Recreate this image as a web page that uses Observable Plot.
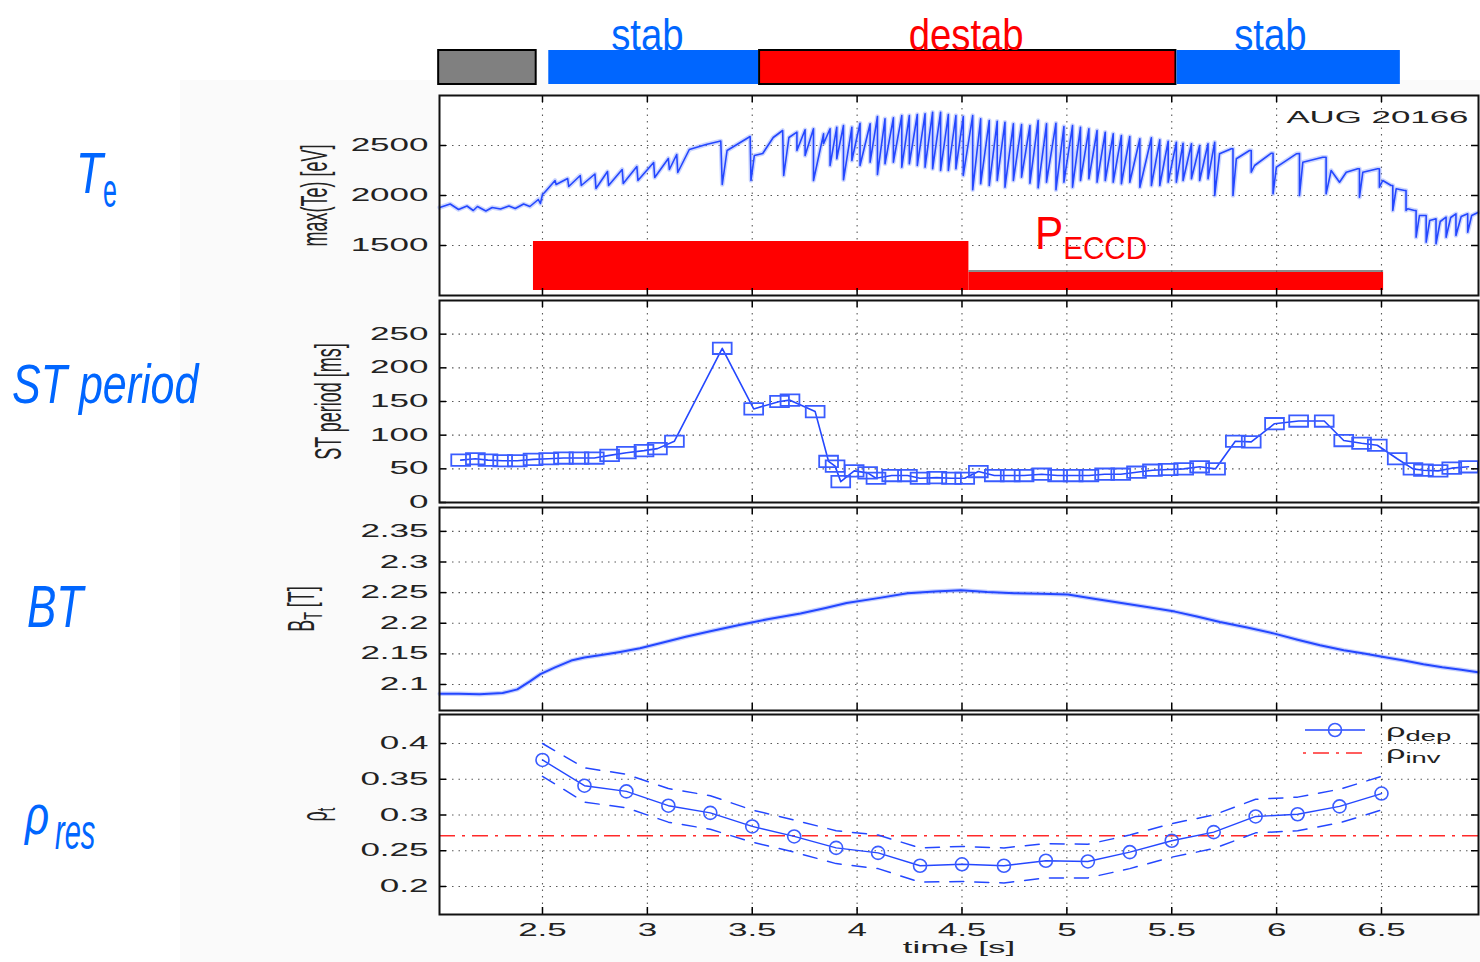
<!DOCTYPE html>
<html><head><meta charset="utf-8">
<script src="https://cdn.jsdelivr.net/npm/d3@7"></script>
<script src="https://cdn.jsdelivr.net/npm/@observablehq/plot@0.6"></script>
<style>
body{margin:0;background:#fff;}
#wrap{position:relative;width:1480px;height:962px;overflow:hidden;background:#fff;font-family:"Liberation Sans",Arial,sans-serif;}
#wrap svg{position:absolute;left:0;}
#bg{position:absolute;left:180px;top:80px;width:1300px;height:882px;background:#fafafa;}
</style></head><body><div id="wrap"><div id="bg"></div></div>
<script>
// ---------------- shared x axis ----------------
const xDomain = [2.009, 6.9625];
const xTicks = [2.5, 3, 3.5, 4, 4.5, 5, 5.5, 6, 6.5];

// ---------------- phase bar ----------------
const phaseStart = [2.005, 2.53, 3.535, 5.525];
const phaseEnd = [2.47, 3.53, 5.52, 6.59];
const phaseFill = ["#808080", "#0066ff", "#ff0000", "#0066ff"];
const phaseStroke = ["#000000", "none", "#000000", "none"];
const phaseLabel = ["", "stab", "destab", "stab"];
const phaseLabelT = [null, 3.0, 4.52, 5.97];
const phaseLabelColor = ["#000", "#0066ff", "#ff0000", "#0066ff"];

// ---------------- Te panel ----------------
const teTicks = [1500, 2000, 2500];
const teEarlyT = [2.01,2.06,2.10,2.14,2.17,2.19,2.23,2.26,2.30,2.34,2.37,2.41,2.44,2.48,2.49,2.50,
  2.51,2.56,2.565,2.62,2.625,2.68,2.685,2.75,2.755,2.81,2.815,2.88,2.885,2.95,2.955,3.03,3.035,3.10,3.105,3.14,3.145,3.20,3.28,3.35,3.357,3.38,3.49,3.494,3.51,3.55,3.60,3.645,3.65,3.675];
const teEarlyV = [1880,1915,1860,1895,1850,1890,1845,1880,1865,1895,1870,1915,1890,1960,1920,2010,
  2030,2150,2110,2170,2090,2200,2100,2215,2070,2240,2100,2260,2120,2290,2150,2330,2180,2370,2260,2410,2230,2460,2510,2545,2110,2450,2590,2150,2400,2420,2580,2650,2200,2580];
// sawtooth crashes: time, value before crash, value after crash
const toothT = [3.713,3.752,3.792,3.840,3.871,3.903,3.935,3.975,4.014,4.062,4.097,4.133,4.173,4.213,4.249,4.287,4.324,4.360,4.398,4.435,4.471,4.506,4.551,4.589,4.630,4.668,4.705,4.745,4.784,4.824,4.863,4.903,4.948,4.986,5.027,5.065,5.105,5.144,5.183,5.221,5.260,5.300,5.348,5.403,5.443,5.483,5.522,5.554,5.594,5.633,5.673];
const toothPeak = [2633,2657,2667,2617,2667,2683,2700,2683,2723,2717,2790,2767,2777,2800,2800,2810,2817,2833,2833,2810,2800,2790,2800,2767,2750,2743,2733,2717,2710,2700,2750,2717,2723,2690,2700,2683,2667,2650,2633,2617,2600,2590,2567,2577,2557,2543,2533,2523,2517,2500,2517];
const toothTrough = [2450,2400,2150,2517,2300,2367,2157,2350,2300,2333,2210,2317,2333,2283,2317,2300,2283,2267,2250,2250,2267,2200,2057,2117,2100,2150,2083,2150,2183,2123,2077,2133,2057,2133,2083,2150,2167,2133,2150,2133,2117,2133,2083,2100,2100,2133,2133,2150,2167,2150,2167];
const teLateT = [5.705,5.705,5.728,5.784,5.792,5.792,5.808,5.871,5.879,5.879,5.895,5.975,5.983,5.983,5.999,6.094,6.109,6.109,6.125,6.22,6.236,6.236,6.26,6.30,6.332,6.387,6.395,6.395,6.411,6.482,6.49,6.49,6.506,6.546,6.554,6.554,6.57,6.61,6.617,6.617,6.625,6.657,6.665,6.665,6.681,6.713,6.713,6.73,6.760,6.760,6.78,6.808,6.808,6.83,6.855,6.855,6.88,6.911,6.911,6.93,6.96];
const teLateV = [2533,2000,2417,2467,2467,2000,2367,2450,2450,2233,2300,2423,2423,2017,2283,2417,2420,2000,2333,2383,2383,2017,2250,2133,2233,2267,2267,1983,2233,2267,2267,2083,2150,2100,2100,1850,2067,2050,2050,1850,1867,1850,1850,1583,1800,1800,1533,1750,1767,1517,1740,1783,1583,1780,1817,1600,1790,1817,1633,1800,1830];
// ECCD power blocks
const eccdStart = [2.457, 4.533];
const eccdEnd = [4.533, 6.51];
const eccdLow = [1050, 1050];
const eccdHigh = [1540, 1230];
const eccdLineLevel = 1245;

// ---------------- ST period panel ----------------
const stTicks = [0, 50, 100, 150, 200, 250];
const stT = [2.11,2.18,2.24,2.31,2.38,2.455,2.53,2.60,2.674,2.747,2.82,2.90,2.984,3.048,3.129,3.357,3.507,3.63,3.68,3.80,3.864,3.895,3.922,3.986,4.05,4.09,4.165,4.24,4.30,4.38,4.45,4.513,4.578,4.654,4.73,4.796,4.88,4.956,5.03,5.105,5.18,5.257,5.332,5.408,5.483,5.557,5.633,5.709,5.803,5.879,5.99,6.105,6.227,6.32,6.405,6.48,6.575,6.65,6.70,6.77,6.835,6.915];
const stV = [63,65,63,62,62,64,65,66,66,66,70,74,77,80,91,229,139,150,152,135,61,54,31,47,44,36,40,40,36,37,36,36,46,40,40,40,42,40,40,40,42,42,45,48,49,50,53,50,91,90,117,121,121,92,88,85,65,50,48,47,51,53];

// ---------------- BT panel ----------------
const btTicks = [2.1, 2.15, 2.2, 2.25, 2.3, 2.35];
const btT = [2.01,2.10,2.20,2.31,2.38,2.44,2.49,2.56,2.637,2.70,2.78,2.87,2.965,3.07,3.183,3.30,3.438,3.58,3.73,3.85,3.95,4.10,4.24,4.37,4.495,4.62,4.75,4.88,5.005,5.13,5.26,5.39,5.515,5.62,5.73,5.86,5.99,6.10,6.207,6.32,6.424,6.51,6.608,6.70,6.79,6.88,6.96];
const btV = [2.085,2.085,2.084,2.086,2.092,2.105,2.117,2.128,2.139,2.144,2.148,2.153,2.159,2.168,2.178,2.187,2.197,2.207,2.216,2.225,2.233,2.241,2.249,2.252,2.254,2.251,2.249,2.248,2.247,2.240,2.233,2.226,2.219,2.211,2.202,2.193,2.183,2.173,2.164,2.156,2.150,2.145,2.139,2.133,2.128,2.124,2.120];

// ---------------- rho panel ----------------
const rhoTicks = [0.2, 0.25, 0.3, 0.35, 0.4];
const rhoT = [2.5,2.7,2.9,3.1,3.3,3.5,3.7,3.9,4.1,4.3,4.5,4.7,4.9,5.1,5.3,5.5,5.7,5.9,6.1,6.3,6.5];
const rhoDep = [0.377,0.341,0.333,0.313,0.303,0.284,0.270,0.254,0.247,0.229,0.231,0.229,0.236,0.235,0.248,0.264,0.276,0.298,0.301,0.312,0.330];
const rhoUpper = [0.400,0.366,0.357,0.337,0.327,0.307,0.293,0.278,0.272,0.254,0.256,0.254,0.260,0.259,0.272,0.288,0.300,0.322,0.325,0.336,0.354];
const rhoLower = [0.354,0.318,0.310,0.290,0.280,0.262,0.248,0.232,0.225,0.206,0.207,0.205,0.212,0.212,0.225,0.241,0.253,0.275,0.278,0.289,0.307];
const rhoInv = 0.271;

// ================= rendering =================
const W = 1480, ML = 439, MR = 2, MT = 12;
const FONT = "'Liberation Sans', Arial, Helvetica, sans-serif";
const style = {fontFamily: FONT, fontSize: "17.5px", color: "#222", background: "transparent", overflow: "visible"};
const blue = "#2447ff";
const wrap = document.getElementById("wrap");

function place(svg, top) { svg.style.top = top + "px"; svg.style.position = "absolute"; wrap.appendChild(svg); return svg; }

// Stretch glyphs: sx along the text direction, sy across it (via font size + textLength)
function widen(sel, sx, sy) {
  sel.each(function() {
    const fs = parseFloat(getComputedStyle(this).fontSize);
    const len = this.getComputedTextLength();
    if (sy !== 1) this.setAttribute("font-size", fs * sy);
    this.setAttribute("textLength", len * sx);
    this.setAttribute("lengthAdjust", "spacingAndGlyphs");
  });
}
function textsIn(svg, content) {
  return d3.select(svg).selectAll("text").filter(function() { return this.textContent === content; });
}

const gridStyle = {stroke: "#000", strokeOpacity: 0.65, strokeDasharray: "1.5,5", strokeWidth: 1.1};

function panelMarks(yDom, yTicks, frameH) {
  const ky = (yDom[1] - yDom[0]) / frameH * 7;
  const kx = (xDomain[1] - xDomain[0]) / (W - ML - MR) * 7;
  return {
    under: [
      Plot.frame({fill: "white", stroke: null}),
      Plot.gridX(xTicks, gridStyle),
      Plot.gridY(yTicks, gridStyle)
    ],
    over: [
      Plot.ruleX(xTicks, {x: d => d, y1: yDom[0], y2: yDom[0] + ky, stroke: "#000", strokeWidth: 1.5}),
      Plot.ruleX(xTicks, {x: d => d, y1: yDom[1] - ky, y2: yDom[1], stroke: "#000", strokeWidth: 1.5}),
      Plot.ruleY(yTicks, {y: d => d, x1: xDomain[0], x2: xDomain[0] + kx, stroke: "#000", strokeWidth: 1.5}),
      Plot.ruleY(yTicks, {y: d => d, x1: xDomain[1] - kx, x2: xDomain[1], stroke: "#000", strokeWidth: 1.5}),
      Plot.axisY(yTicks, {tickSize: 0, tickPadding: 11, tickFormat: d => String(d), label: null, fill: "#222"}),
      Plot.frame({stroke: "#111", strokeWidth: 2})
    ]
  };
}

// ---- phase bar plot ----
const phaseIdx = phaseStart.map((_, i) => i);
const phaseSvg = Plot.plot({
  width: W, height: 85, marginTop: 50, marginBottom: 1, marginLeft: ML, marginRight: MR,
  x: {domain: xDomain, axis: null}, color: {type: "identity"}, style,
  marks: [
    Plot.rect(phaseIdx, {x1: i => phaseStart[i], x2: i => phaseEnd[i], fill: i => phaseFill[i], stroke: i => phaseStroke[i], strokeWidth: 2}),
    Plot.text(phaseIdx.filter(i => phaseLabel[i]), {x: i => phaseLabelT[i], text: i => phaseLabel[i], fill: i => phaseLabelColor[i],
      frameAnchor: "top", lineAnchor: "bottom", dy: -1, fontSize: 44})
  ]
});
place(phaseSvg, 0);
for (const l of ["stab", "destab"]) widen(textsIn(phaseSvg, l), 0.87, 1);

// ---- Te plot ----
const te = [];
teEarlyT.forEach((t, i) => te.push({t, v: teEarlyV[i]}));
toothT.forEach((t, i) => { te.push({t, v: toothPeak[i]}); te.push({t, v: toothTrough[i]}); });
teLateT.forEach((t, i) => te.push({t, v: teLateV[i]}));
const teDom = [1000, 3000];
const pm1 = panelMarks(teDom, teTicks, 200);
const eccdIdx = eccdStart.map((_, i) => i);
const teSvg = Plot.plot({
  width: W, height: 200 + MT + 1, marginTop: MT, marginBottom: 1, marginLeft: ML, marginRight: MR,
  x: {domain: xDomain, axis: null}, y: {domain: teDom, axis: null}, style,
  marks: [
    ...pm1.under,
    Plot.rect(eccdIdx, {x1: i => eccdStart[i], x2: i => eccdEnd[i], y1: i => eccdLow[i], y2: i => eccdHigh[i], fill: "#ff0000"}),
    Plot.ruleY([eccdLineLevel], {x1: eccdStart[1], x2: eccdEnd[1], stroke: "#666", strokeWidth: 1.6}),
    Plot.line(te, {x: "t", y: "v", stroke: "#8fa3ff", strokeWidth: 4.5, strokeOpacity: 0.45}),
    Plot.line(te, {x: "t", y: "v", stroke: blue, strokeWidth: 1.6}),
    ...pm1.over,
    Plot.text(["max(Te) [eV]"], {frameAnchor: "left", textAnchor: "middle", dx: -124, rotate: -90, fontSize: 18, fill: "#222"}),
    Plot.text(["AUG 20166"], {frameAnchor: "top-right", textAnchor: "end", dx: -10, dy: 15, fontSize: 17, fill: "#222"}),
    Plot.text(["P"], {x: [4.848], y: [1615], textAnchor: "start", fontSize: 46, fill: "#ff0000"})
  ]
});
place(teSvg, 95 - MT);

// ---- ST plot ----
const stDom = [0, 300];
const pm2 = panelMarks(stDom, stTicks, 202);
const squareSym = {draw(ctx, size) { const r = Math.sqrt(size / Math.PI); const w = 1.65 * r, h = 1.0 * r; ctx.moveTo(-w, -h); ctx.lineTo(w, -h); ctx.lineTo(w, h); ctx.lineTo(-w, h); ctx.closePath(); }};
const stIdx = stT.map((_, i) => i);
const stSvg = Plot.plot({
  width: W, height: 202 + MT + 1, marginTop: MT, marginBottom: 1, marginLeft: ML, marginRight: MR,
  x: {domain: xDomain, axis: null}, y: {domain: stDom, axis: null}, style,
  marks: [
    ...pm2.under,
    Plot.line(stIdx, {x: i => stT[i], y: i => stV[i], stroke: blue, strokeWidth: 1.6}),
    Plot.dot(stIdx, {x: i => stT[i], y: i => stV[i], symbol: squareSym, r: 5.7, stroke: "#3a5cff", strokeWidth: 1.8, fill: "none"}),
    ...pm2.over,
    Plot.text(["ST period [ms]"], {frameAnchor: "left", textAnchor: "middle", dx: -110, rotate: -90, fontSize: 18, fill: "#222"})
  ]
});
place(stSvg, 300 - MT);

// ---- BT plot ----
const btDom = [2.0575, 2.389];
const pm3 = panelMarks(btDom, btTicks, 203);
const btIdx = btT.map((_, i) => i);
const btSvg = Plot.plot({
  width: W, height: 203 + MT + 1, marginTop: MT, marginBottom: 1, marginLeft: ML, marginRight: MR,
  x: {domain: xDomain, axis: null}, y: {domain: btDom, axis: null}, style,
  marks: [
    ...pm3.under,
    Plot.line(btIdx, {x: i => btT[i], y: i => btV[i], stroke: "#8fa3ff", strokeWidth: 4.5, strokeOpacity: 0.5}),
    Plot.line(btIdx, {x: i => btT[i], y: i => btV[i], stroke: blue, strokeWidth: 2}),
    ...pm3.over,
    Plot.text(["B [T]"], {frameAnchor: "left", textAnchor: "middle", dx: -137, rotate: -90, fontSize: 18, fill: "#222"})
  ]
});
place(btSvg, 507 - MT);

// ---- rho plot ----
const rhoDom = [0.1608, 0.4406];
const pm4 = panelMarks(rhoDom, rhoTicks, 200);
const rhoIdx = rhoT.map((_, i) => i);
const rhoSvg = Plot.plot({
  width: W, height: 200 + MT + 48, marginTop: MT, marginBottom: 48, marginLeft: ML, marginRight: MR,
  x: {domain: xDomain, axis: null}, y: {domain: rhoDom, axis: null}, style,
  marks: [
    ...pm4.under,
    Plot.ruleY([rhoInv], {stroke: "#ff2a2a", strokeWidth: 1.3, strokeDasharray: "16,7,3,7"}),
    Plot.line(rhoIdx, {x: i => rhoT[i], y: i => rhoUpper[i], stroke: blue, strokeWidth: 1.5, strokeDasharray: "14,11"}),
    Plot.line(rhoIdx, {x: i => rhoT[i], y: i => rhoLower[i], stroke: blue, strokeWidth: 1.5, strokeDasharray: "14,11"}),
    Plot.line(rhoIdx, {x: i => rhoT[i], y: i => rhoDep[i], stroke: blue, strokeWidth: 1.4}),
    Plot.dot(rhoIdx, {x: i => rhoT[i], y: i => rhoDep[i], r: 6.5, stroke: "#3a5cff", strokeWidth: 1.6, fill: "none"}),
    ...pm4.over,
    Plot.axisX(xTicks, {tickSize: 0, tickPadding: 9, tickFormat: d => String(d), label: null, fill: "#222"}),
    Plot.text(["time [s]"], {frameAnchor: "bottom", dy: 38, fontSize: 17, fill: "#222"}),
    Plot.text(["ρt"], {frameAnchor: "left", textAnchor: "middle", dx: -124, rotate: -90, fontSize: 18, fill: "#222"})
  ]
});
place(rhoSvg, 714 - MT);

// ---- text styling (stretched Matlab-like fonts, subscripts) ----
textsIn(btSvg, "B [T]").html('B<tspan dy="0.3em" font-size="0.7em">T</tspan><tspan dy="-0.21em"> [T]</tspan>');
textsIn(rhoSvg, "ρt").html('ρ<tspan dy="0.3em" font-size="0.7em">t</tspan>');
textsIn(teSvg, "P").html('P<tspan dy="0.33em" font-size="0.7em">ECCD</tspan>');

for (const s of [teSvg, stSvg, btSvg, rhoSvg]) {
  widen(d3.select(s).selectAll('g[aria-label="y-axis tick label"] text'), 2, 1);
  widen(d3.select(s).selectAll('g[aria-label="x-axis tick label"] text'), 2, 1);
}
widen(textsIn(teSvg, "max(Te) [eV]"), 1, 2);
widen(textsIn(stSvg, "ST period [ms]"), 1, 2);
widen(textsIn(btSvg, "BT [T]"), 1, 2);
widen(textsIn(rhoSvg, "ρt"), 1, 2);
widen(textsIn(teSvg, "AUG 20166"), 2.05, 1);
widen(textsIn(rhoSvg, "time [s]"), 2.05, 1);
widen(textsIn(teSvg, "PECCD"), 0.92, 1);

// ---- overlay: side labels and legend ----
const ov = d3.select(wrap).append("svg").attr("width", W).attr("height", 962)
  .style("position", "absolute").style("left", 0).style("top", 0).style("pointer-events", "none")
  .attr("font-family", FONT);
function sideLabel(x, y, size, sy, italic, html) {
  const t = ov.append("text").attr("x", x).attr("y", y).attr("font-size", size)
    .attr("font-style", italic ? "italic" : "normal").attr("fill", "#0066ff").html(html);
  widen(t, 1, sy);
}
sideLabel(76, 193, 44, 1.3, true, "T");
sideLabel(103, 207, 25, 1.9, false, "e");
sideLabel(12, 403, 43, 1.3, true, "ST period");
sideLabel(27, 627, 44, 1.33, true, "BT");
sideLabel(25, 834, 42, 1.3, true, "ρ");
sideLabel(55, 849, 29, 1.7, true, "res");

// legend for rho panel
const lg = ov.append("g");
lg.append("line").attr("x1", 1305).attr("x2", 1365).attr("y1", 730).attr("y2", 730).attr("stroke", blue).attr("stroke-width", 1.4);
lg.append("circle").attr("cx", 1335).attr("cy", 730).attr("r", 6.5).attr("fill", "none").attr("stroke", "#3a5cff").attr("stroke-width", 1.6);
lg.append("line").attr("x1", 1303).attr("x2", 1365).attr("y1", 753).attr("y2", 753).attr("stroke", "#ff2a2a").attr("stroke-width", 1.3).attr("stroke-dasharray", "3,7,16,7");
const l1 = lg.append("text").attr("x", 1386).attr("y", 737).attr("font-size", 18).attr("fill", "#222").html('ρ<tspan dy="0.25em" font-size="0.8em">dep</tspan>');
const l2 = lg.append("text").attr("x", 1386).attr("y", 759).attr("font-size", 18).attr("fill", "#222").html('ρ<tspan dy="0.25em" font-size="0.8em">inv</tspan>');
widen(l1, 1.9, 1); widen(l2, 1.9, 1);
</script>
</body></html>
